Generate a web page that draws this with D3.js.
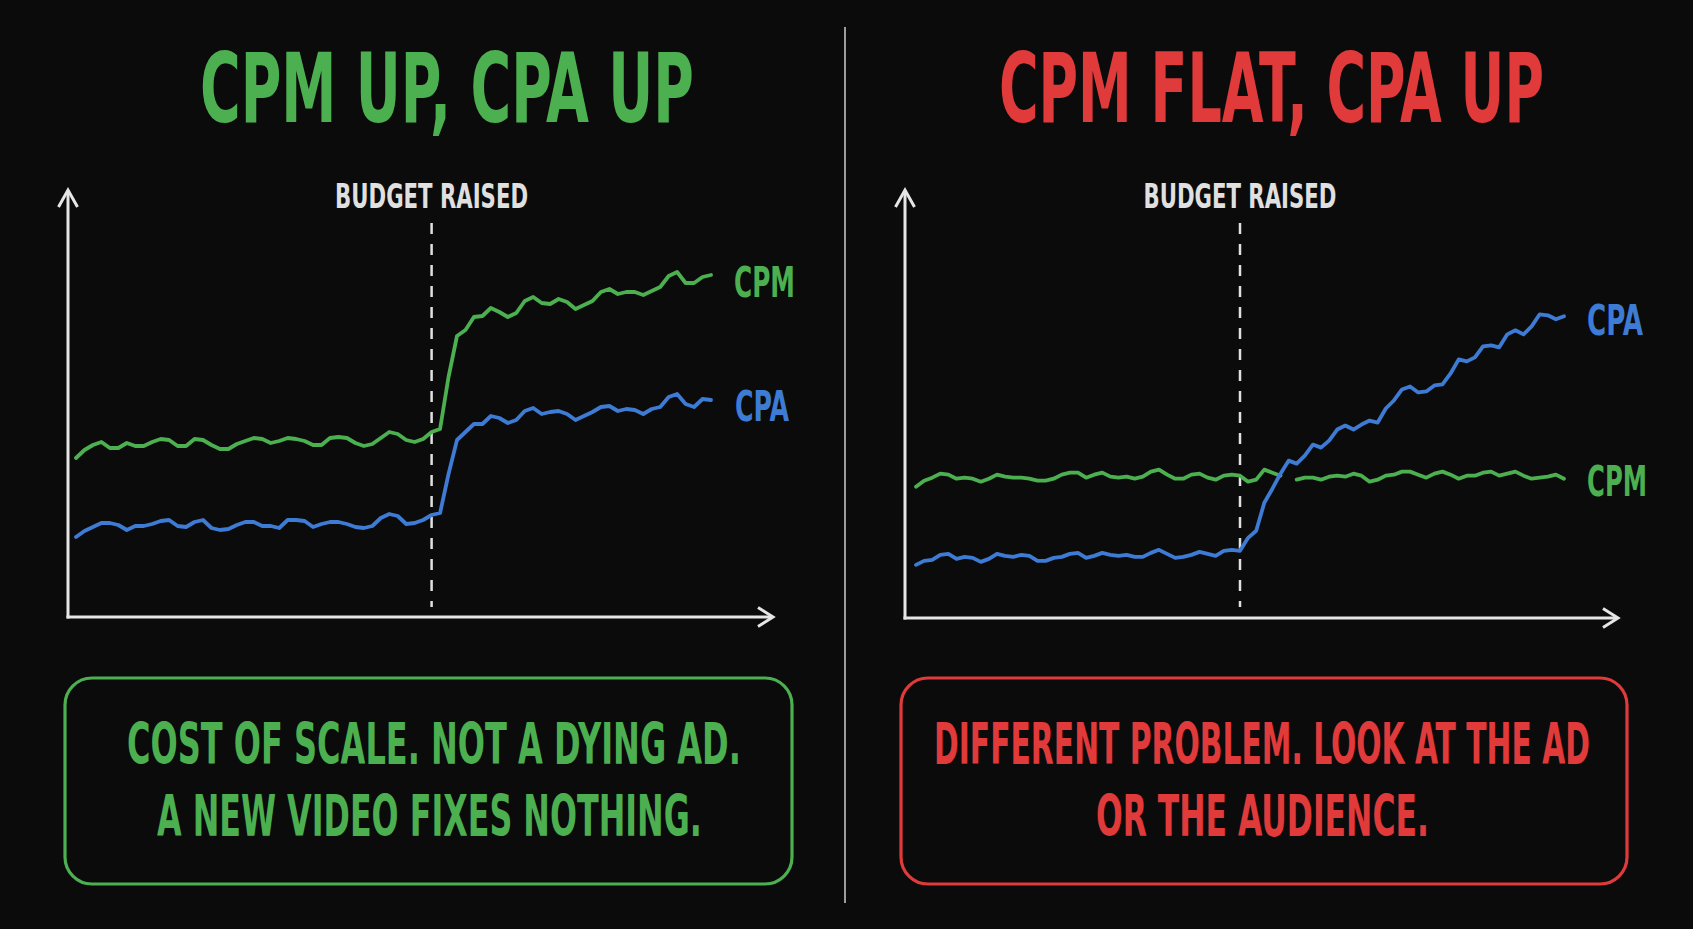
<!DOCTYPE html>
<html>
<head>
<meta charset="utf-8">
<script src="https://cdn.jsdelivr.net/npm/d3@7"></script>
<style>
  html, body { margin: 0; padding: 0; background: #0b0b0b; overflow: hidden; }
  svg { display: block; }
</style>
</head>
<body>
<script>
// values, one per day, on an index scale (no y ticks in the original)
var leftCpm = [15.9, 16.7, 17.2, 17.5, 16.9, 16.9, 17.4, 17.1, 17.1, 17.5,
               17.8, 17.7, 17.1, 17.1, 17.8, 17.7, 17.2, 16.8, 16.8, 17.3,
               17.6, 17.9, 17.8, 17.4, 17.6, 17.9, 17.8, 17.6, 17.2, 17.2,
               17.9, 18.0, 17.9, 17.4, 17.1, 17.3, 17.9, 18.5, 18.3, 17.7,
               17.5, 17.8, 18.5, 18.8, 24.0, 28.1, 28.7, 30.0, 30.1, 30.9,
               30.5, 30.0, 30.4, 31.6, 32.0, 31.4, 31.3, 31.8, 31.5, 30.8,
               31.2, 31.6, 32.5, 32.8, 32.3, 32.5, 32.5, 32.2, 32.6, 33.0,
               34.1, 34.5, 33.4, 33.4, 34.0, 34.2];
var leftCpa = [8.0, 8.6, 9.0, 9.4, 9.4, 9.2, 8.7, 9.1, 9.1, 9.3,
               9.6, 9.7, 9.1, 9.0, 9.5, 9.7, 8.9, 8.7, 8.8, 9.2,
               9.5, 9.5, 9.1, 9.1, 8.9, 9.7, 9.7, 9.6, 9.0, 9.3,
               9.5, 9.5, 9.3, 9.0, 8.9, 9.1, 9.9, 10.3, 10.1, 9.3,
               9.4, 9.7, 10.2, 10.4, 14.3, 17.7, 18.5, 19.3, 19.3, 20.1,
               19.9, 19.4, 19.7, 20.6, 20.9, 20.3, 20.5, 20.6, 20.3, 19.7,
               20.1, 20.5, 21.0, 21.1, 20.6, 20.8, 20.7, 20.3, 20.8, 21.0,
               22.0, 22.3, 21.3, 21.0, 21.8, 21.7];
var rightCpm = [13.1, 13.7, 14.0, 14.4, 14.3, 13.9, 14.0, 13.9, 13.6, 13.9,
                14.3, 14.1, 14.0, 14.0, 13.9, 13.7, 13.7, 13.9, 14.3, 14.5,
                14.5, 14.0, 14.3, 14.5, 14.1, 14.0, 14.1, 13.9, 14.1, 14.6,
                14.8, 14.3, 13.9, 13.9, 14.3, 14.4, 14.0, 13.8, 14.2, 14.3,
                14.2, 13.6, 13.8, 14.8, 14.5, 14.2, null, 13.8, 14.0, 14.0,
                13.8, 14.1, 14.2, 14.1, 14.4, 14.2, 13.6, 13.8, 14.2, 14.3,
                14.6, 14.6, 14.3, 14.0, 14.4, 14.6, 14.3, 13.9, 14.2, 14.2,
                14.5, 14.6, 14.2, 14.4, 14.6, 14.2, 13.9, 14.0, 14.1, 14.3,
                13.9];
var rightCpa = [5.3, 5.7, 5.8, 6.3, 6.4, 5.9, 6.1, 6.0, 5.6, 5.9,
                6.4, 6.2, 6.1, 6.3, 6.2, 5.7, 5.7, 6.0, 6.1, 6.4,
                6.5, 6.0, 6.2, 6.5, 6.3, 6.2, 6.3, 6.1, 6.1, 6.5,
                6.8, 6.4, 6.0, 6.1, 6.3, 6.6, 6.4, 6.2, 6.7, 6.8,
                6.7, 8.0, 8.7, 11.5, 12.9, 14.4, 15.7, 15.4, 16.2, 17.3,
                17.0, 17.7, 18.8, 19.2, 18.8, 19.3, 19.7, 19.5, 20.9, 21.7,
                22.8, 23.1, 22.5, 22.6, 23.2, 23.3, 24.4, 25.8, 25.6, 26.0,
                27.1, 27.2, 27.0, 28.3, 28.7, 28.3, 29.1, 30.3, 30.2, 29.8,
                30.1];
var budgetDays = [42, 40];
var panelTitles = ["CPM UP, CPA UP", "CPM FLAT, CPA UP"];
var panelNotes = [["COST OF SCALE. NOT A DYING AD.", "A NEW VIDEO FIXES NOTHING."],
                  ["DIFFERENT PROBLEM. LOOK AT THE AD", "OR THE AUDIENCE."]];
var markerLabel = "BUDGET RAISED";
var seriesNames = ["CPM", "CPA"];

var colors = {bg: "#0b0b0b", green: "#4caf50", red: "#e03a3a", blue: "#3d7bd4",
              axis: "#e6e6e6", marker: "#e0e0e0", divider: "#cfcfcf"};
var font = "'Liberation Sans Narrow', 'DejaVu Sans Condensed', 'Roboto Condensed', Roboto, sans-serif";

var width = 1693, height = 929;
var yMax = 42.5;   // index value at the top of the y axis

// layout of each panel (pixels); data lives in the arrays above
var panels = [
  {series: [leftCpm, leftCpa], accent: colors.green,
   ox: 68, oy: 617, xEnd: 773, lineRange: [76, 711],
   titleX: 200, titleW: 494,
   labels: [{x: 734, y: 297, w: 61}, {x: 735, y: 421, w: 54}],
   box: {x: 65, y: 678, w: 727, h: 206},
   notes: [{x: 127, w: 614}, {x: 157, w: 545}]},
  {series: [rightCpm, rightCpa], accent: colors.red,
   ox: 905, oy: 618, xEnd: 1618, lineRange: [916, 1564],
   titleX: 999, titleW: 545,
   labels: [{x: 1587, y: 496, w: 60}, {x: 1587, y: 335, w: 56}],
   box: {x: 901, y: 678, w: 726, h: 206},
   notes: [{x: 934, w: 656}, {x: 1096, w: 333}]}
];

var svg = d3.select("body").append("svg")
    .attr("width", width)
    .attr("height", height);

svg.append("rect")
    .attr("width", width)
    .attr("height", height)
    .attr("fill", colors.bg);

// centre divider
svg.append("line")
    .attr("x1", 845).attr("x2", 845)
    .attr("y1", 27).attr("y2", 903)
    .attr("stroke", colors.divider)
    .attr("stroke-width", 1.5);

// condensed look: measure the text, then squeeze it to the width seen in the picture
var addText = function(g, str, x, y, size, w, fill) {
  var t = g.append("text")
      .attr("x", 0)
      .attr("y", 0)
      .attr("font-family", font)
      .attr("font-weight", "bold")
      .attr("font-size", size)
      .attr("fill", fill)
      .text(str);
  var natural = t.node().getComputedTextLength();
  t.attr("transform", "translate(" + x + "," + y + ") scale(" + (w / natural) + ",1)");
  return t;
};

panels.forEach(function(p, pi) {
  var g = svg.append("g").attr("class", "panel");
  var data0 = p.series[0];

  var x = d3.scaleLinear()
      .domain([0, data0.length - 1])
      .range(p.lineRange);
  var y = d3.scaleLinear()
      .domain([0, yMax])
      .range([p.oy, 192]);

  // title
  addText(g, panelTitles[pi], p.titleX, 122, 96, p.titleW, p.accent);

  // axes with open arrow heads
  g.append("path")
      .attr("d", d3.line()([[p.ox, p.oy + 1.5], [p.ox, y(yMax) - 1]]))
      .attr("fill", "none").attr("stroke", colors.axis).attr("stroke-width", 3);
  g.append("path")
      .attr("d", d3.line()([[p.ox - 9.5, 207], [p.ox, 190], [p.ox + 9.5, 207]]))
      .attr("fill", "none").attr("stroke", colors.axis).attr("stroke-width", 3);
  g.append("path")
      .attr("d", d3.line()([[p.ox - 1.5, p.oy], [p.xEnd - 1, p.oy]]))
      .attr("fill", "none").attr("stroke", colors.axis).attr("stroke-width", 3);
  g.append("path")
      .attr("d", d3.line()([[p.xEnd - 15, p.oy - 9.5], [p.xEnd, p.oy], [p.xEnd - 15, p.oy + 9.5]]))
      .attr("fill", "none").attr("stroke", colors.axis).attr("stroke-width", 3);

  // budget marker
  var bx = x(budgetDays[pi]);
  g.append("line")
      .attr("x1", bx).attr("x2", bx)
      .attr("y1", 223).attr("y2", 607)
      .attr("stroke", colors.marker)
      .attr("stroke-width", 2.5)
      .attr("stroke-dasharray", "11 10");
  addText(g, markerLabel, bx - 96.5, 208, 33.5, 193, colors.marker);

  // series lines: CPM green, CPA blue on top
  var line = d3.line()
      .defined(function(d) { return d != null; })
      .x(function(d, i) { return x(i); })
      .y(function(d) { return y(d); });
  var seriesColors = [colors.green, colors.blue];

  g.selectAll("path.series")
      .data(p.series)
      .enter().append("path")
      .attr("class", "series")
      .attr("d", line)
      .attr("fill", "none")
      .attr("stroke", function(d, i) { return seriesColors[i]; })
      .attr("stroke-width", 3.8)
      .attr("stroke-linejoin", "round")
      .attr("stroke-linecap", "round");

  p.labels.forEach(function(l, i) {
    addText(g, seriesNames[i], l.x, l.y, 42, l.w, seriesColors[i]);
  });

  // note box
  g.append("rect")
      .attr("x", p.box.x).attr("y", p.box.y)
      .attr("width", p.box.w).attr("height", p.box.h)
      .attr("rx", 27).attr("ry", 27)
      .attr("fill", "none")
      .attr("stroke", p.accent)
      .attr("stroke-width", 3.2);

  panelNotes[pi].forEach(function(str, i) {
    addText(g, str, p.notes[i].x, i === 0 ? 764 : 836, 57, p.notes[i].w, p.accent);
  });
});
</script>
</body>
</html>
